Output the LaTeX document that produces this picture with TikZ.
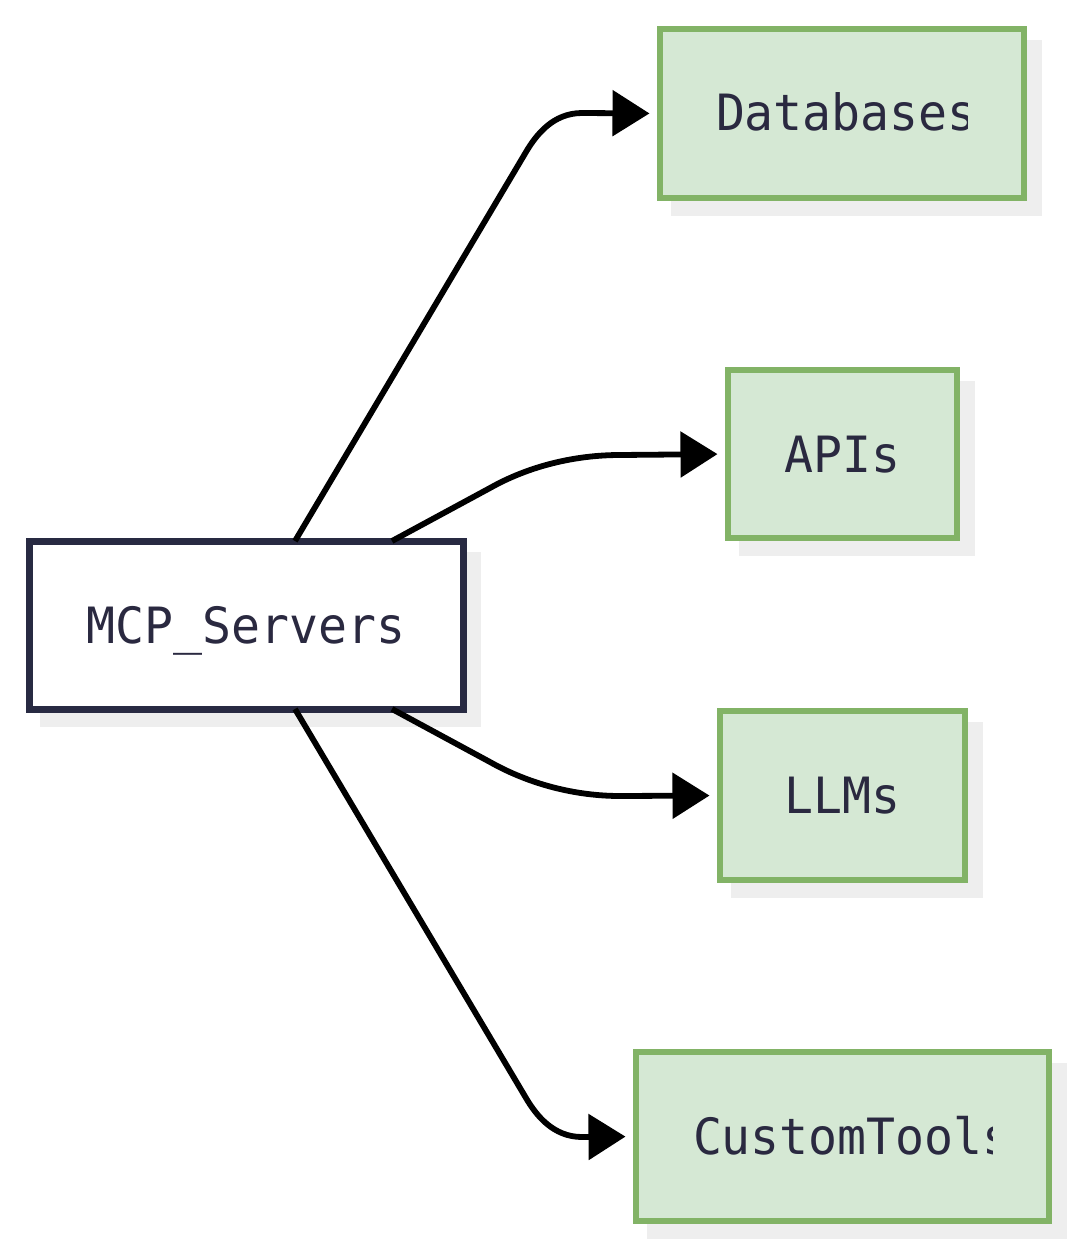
\documentclass[tikz,border=0pt]{standalone}
\usepackage{fontspec}
\usetikzlibrary{arrows.meta,backgrounds}
\newfontfamily\diagmono[FakeStretch=0.963]{DejaVu Sans Mono}
\definecolor{navy}{HTML}{282A42}
\definecolor{txt}{HTML}{2A2940}
\definecolor{gstroke}{HTML}{82B366}
\definecolor{gfill}{HTML}{D5E8D4}
\definecolor{shadowgrey}{HTML}{EEEEEE}
\begin{document}
\begin{tikzpicture}[x=1pt,y=-1pt,
  box/.style={rectangle, inner sep=0pt, outer sep=0pt, text height=36pt, text depth=0pt,
    font=\diagmono\fontsize{50}{60}\selectfont, text=txt},
  srcbox/.style={box, draw=navy, line width=7pt, fill=white},
  tgtbox/.style={box, draw=gstroke, line width=6.5pt, fill=gfill},
  txtlbl/.style={box, anchor=west},
  conn/.style={draw=black, line width=5.8pt, -{Triangle[length=37pt,width=45pt]}, shorten >=10.5pt}]
\useasboundingbox (0,0) rectangle (1080,1253);
% boxes
\node[srcbox, minimum width=434pt, minimum height=168pt] (mcp) at (246,625) {MCP\_Servers};
\node[tgtbox, minimum width=364pt, minimum height=169pt] (db) at (842,113.5) {};
\node[tgtbox, minimum width=229pt, minimum height=168pt] (api) at (842.5,454) {APIs};
\node[tgtbox, minimum width=245pt, minimum height=169pt] (llm) at (842.5,795.5) {LLMs};
\node[tgtbox, minimum width=413pt, minimum height=169pt] (ct) at (842.5,1136.5) {};
% clipped labels
\begin{scope}
  \clip (db.north west) rectangle ([xshift=-57pt]db.south east);
  \node[txtlbl] (dbt) at (716,112) {Databases};
\end{scope}
\begin{scope}
  \clip (ct.north west) rectangle ([xshift=-57pt]ct.south east);
  \node[txtlbl] (ctt) at (693,1136) {CustomTools};
\end{scope}
% shadows and background
\begin{pgfonlayer}{background}
  \fill[white] (0,0) rectangle (1080,1253);
  \foreach \n in {mcp,db,api,llm,ct}
    \fill[shadowgrey] ([shift={(11pt,-11pt)}]\n.north west) rectangle ([shift={(18pt,-18pt)}]\n.south east);
\end{pgfonlayer}
% connector waypoints
\coordinate (p1a) at (526,152);
\coordinate (p1b) at (536,135);
\coordinate (p1c) at (553,113);
\coordinate (p1d) at (582,113);
\coordinate (p2a) at (490,488);
\coordinate (p2b) at (529,466);
\coordinate (p2c) at (575,455);
\coordinate (p2d) at (620,455);
\coordinate (p3a) at (490,762);
\coordinate (p3b) at (529,784);
\coordinate (p3c) at (575,796);
\coordinate (p3d) at (620,796);
\coordinate (p4a) at (526,1098);
\coordinate (p4b) at (536,1115);
\coordinate (p4c) at (553,1137);
\coordinate (p4d) at (582,1137);
% connectors
\draw[conn] ([xshift=49pt]mcp.north) -- (p1a) .. controls (p1b) and (p1c) .. (p1d) -- (db.west);
\draw[conn] ([xshift=146pt]mcp.north) -- (p2a) .. controls (p2b) and (p2c) .. (p2d) -- (api.west);
\draw[conn] ([xshift=146pt]mcp.south) -- (p3a) .. controls (p3b) and (p3c) .. (p3d) -- (llm.west);
\draw[conn] ([xshift=49pt]mcp.south) -- (p4a) .. controls (p4b) and (p4c) .. (p4d) -- (ct.west);
\end{tikzpicture}
\end{document}
